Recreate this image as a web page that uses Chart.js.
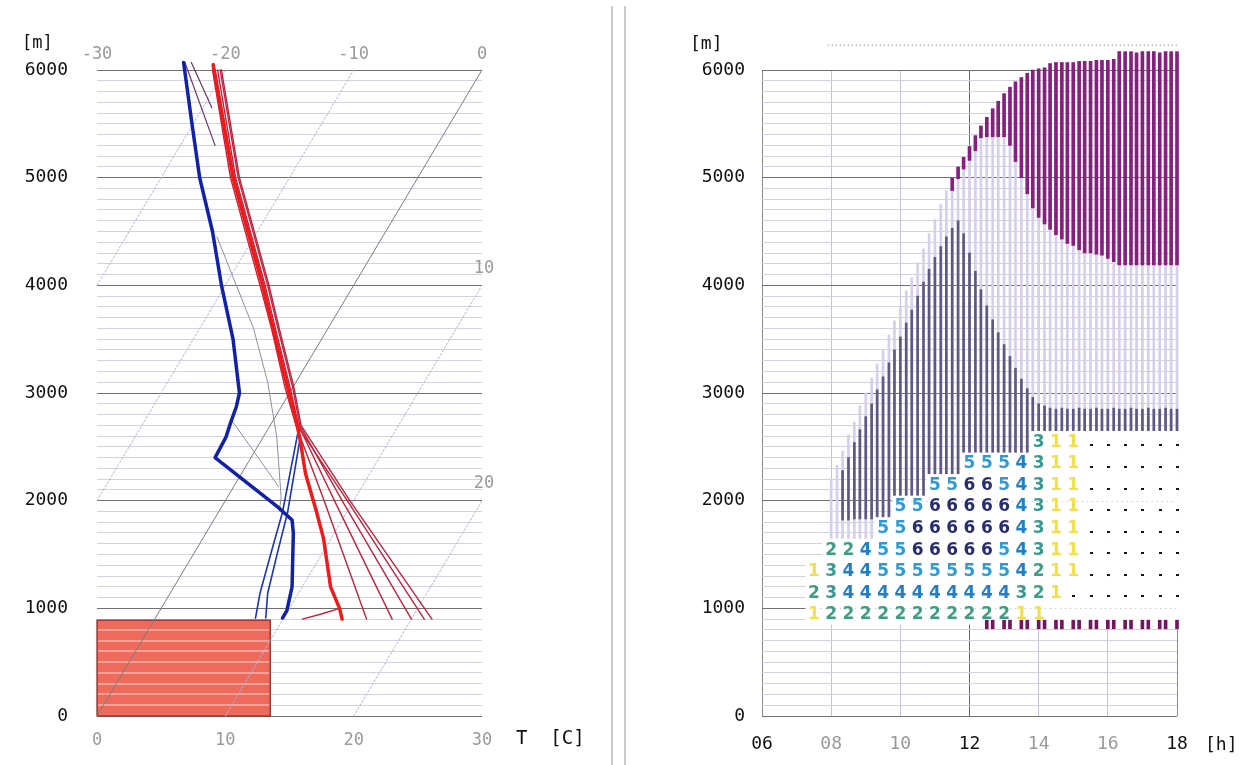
<!DOCTYPE html>
<html>
<head>
<meta charset="utf-8">
<script src="https://cdn.jsdelivr.net/npm/chart.js@4.4.0/dist/chart.umd.min.js"></script>
<style>
  html, body { margin: 0; padding: 0; background: #fff; }
  #wrap { position: relative; width: 1256px; height: 765px; overflow: hidden; }
  #left { position: absolute; left: 0; top: 0; }
  #right { position: absolute; left: 640px; top: 0; }
  .sep { position: absolute; top: 6px; width: 2px; height: 759px; background: #c9c9c9; }
</style>
</head>
<body>
<div id="wrap">
  <canvas id="left" width="600" height="765" style="width:600px;height:765px"></canvas>
  <div class="sep" style="left:611px"></div>
  <div class="sep" style="left:624px"></div>
  <canvas id="right" width="616" height="765" style="width:616px;height:765px"></canvas>
</div>
<script>
// ------------------------------------------------------------
// Left: skewed temperature / height diagram
// heights in m, temperatures in deg C
// ------------------------------------------------------------
const FONT = '"DejaVu Sans Mono", monospace';
const SKEW = 5; // deg C shift per 1000 m

const redMainH = [900, 1000, 1200, 1650, 1900, 2250, 2550, 2700, 3050, 3600, 4000, 5000, 6050];
const redMainT = [14.6, 13.9, 12.2, 9.4, 7.6, 5.0, 3.1, 2.1, -0.4, -4.3, -7.1, -14.4, -21.2];

const redThinH = [900, 2000, 2700, 3050, 3600, 4000, 5000, 6000];
const redThin1T = [16.5, 7.7, 2.0, -0.6, -4.4, -7.3, -14.6, -21.0];
const redThin2T = [18.5, 8.5, 2.2, -0.2, -4.1, -6.9, -14.2, -20.6];
const redThin3T = [20.0, 9.1, 2.3, 0.0, -3.9, -6.7, -14.0, -20.4];
const redThin4T = [21.0, 9.5, 2.1, -0.3, -4.2, -7.0, -14.3, -20.8];
const redThin5T = [21.6, 9.7, 2.4, 0.1, -3.8, -6.6, -13.9, -20.3];

const redHookH = [900, 950, 1000];
const redHookT = [11.5, 12.8, 13.9];

const blueMainH = [910, 980, 1200, 1700, 1820, 1940, 2400, 2590, 2720, 2870, 3000, 3500, 4000, 4500, 5000, 5500, 6070];
const blueMainT = [9.9, 9.9, 9.2, 6.8, 6.1, 4.4, -2.8, -2.9, -3.2, -3.5, -3.9, -6.9, -10.3, -13.5, -17.0, -20.1, -23.6];

const blueThin1H = [910, 1140, 1510, 1890, 2630];
const blueThin1T = [7.8, 7.0, 6.0, 5.0, 2.5];
const blueThin2H = [910, 1140, 1510, 1890, 2560];
const blueThin2T = [8.6, 7.6, 6.5, 5.4, 3.0];

const grayThin1H = [1900, 2030, 2600, 3100, 3600, 4450];
const grayThin1T = [4.7, 4.2, 1.0, -2.2, -5.8, -12.9];
const grayThin2H = [2130, 2680, 2750];
const grayThin2T = [3.5, -2.5, -3.3];

const purpleThin1H = [5300, 6070];
const purpleThin1T = [-17.3, -23.5];
const purpleThin2H = [5650, 6070];
const purpleThin2T = [-19.3, -23.0];

const groundTop = 890;        // m
const groundRight = 13.5;     // on the bottom axis

const isoDotted = [-20, -10, 10, 20];
const isoSolid = [0];
const isoTopLabels = [-30, -20, -10, 0];
const isoSideLabels = [10, 20];

// ------------------------------------------------------------
// Right: time / height chart
// ------------------------------------------------------------
const barTimes = [
  8.00, 8.17, 8.33, 8.50, 8.67, 8.83,
  9.00, 9.17, 9.33, 9.50, 9.67, 9.83,
  10.00, 10.17, 10.33, 10.50, 10.67, 10.83,
  11.00, 11.17, 11.33, 11.50, 11.67, 11.83,
  12.00, 12.17, 12.33, 12.50, 12.67, 12.83,
  13.00, 13.17, 13.33, 13.50, 13.67, 13.83,
  14.00, 14.17, 14.33, 14.50, 14.67, 14.83,
  15.00, 15.17, 15.33, 15.50, 15.67, 15.83,
  16.00, 16.17, 16.33, 16.50, 16.67, 16.83,
  17.00, 17.17, 17.33, 17.50, 17.67, 17.83,
  18.00
];
const lightLo = [
  1650, 1650, 1650, 1650, 1650, 1650, 1650, 1650, 1850, 1850, 1850,
  2050, 2050, 2050, 2050, 2050, 2050, 2250, 2250, 2250, 2250, 2250, 2250,
  2450, 2450, 2450, 2450, 2450, 2450, 2450, 2450, 2450, 2450, 2450, 2450,
  2650, 2650, 2650, 2650, 2650, 2650, 2650, 2650, 2650, 2650, 2650, 2650, 2650,
  2650, 2650, 2650, 2650, 2650, 2650, 2650, 2650, 2650, 2650, 2650, 2650, 2650
];
const lightHi = [
  2200, 2330, 2460, 2610, 2730, 2880, 3000, 3140, 3270, 3400, 3540,
  3670, 3800, 3950, 4070, 4210, 4340, 4480, 4610, 4750, 4880, 5000, 5100,
  5190, 5290, 5390, 5480, 5560, 5640, 5710, 5780, 5840, 5890, 5930, 5970,
  6000, 6010, 6020, 6060, 6070, 6070, 6070, 6070, 6080, 6080, 6080, 6090, 6090,
  6090, 6100, 6170, 6170, 6170, 6160, 6170, 6170, 6170, 6160, 6170, 6170, 6170
];
const darkLo = [
  null, null, 1820, 1820, 1830, 1830, 1830, 1830, 1850, 1850, 1850,
  2050, 2050, 2050, 2050, 2050, 2050, 2250, 2250, 2250, 2250, 2250, 2250,
  2450, 2450, 2450, 2450, 2450, 2450, 2450, 2450, 2450, 2450, 2450, 2450,
  2650, 2650, 2650, 2650, 2650, 2650, 2650, 2650, 2650, 2650, 2650, 2650, 2650,
  2650, 2650, 2650, 2650, 2650, 2650, 2650, 2650, 2650, 2650, 2650, 2650, 2650
];
const darkHi = [
  null, null, 2280, 2400, 2540, 2660, 2780, 2900, 3030, 3150, 3280,
  3400, 3520, 3650, 3770, 3900, 4030, 4150, 4260, 4360, 4450, 4530, 4600,
  4480, 4300, 4130, 3960, 3810, 3680, 3560, 3450, 3340, 3230, 3130, 3040,
  2960, 2900, 2880, 2860, 2850, 2860, 2850, 2850, 2860, 2850, 2850, 2860, 2850,
  2850, 2860, 2850, 2850, 2860, 2850, 2850, 2860, 2850, 2850, 2860, 2850, 2850
];
const magLo = [
  null, null, null, null, null, null, null, null, null, null, null,
  null, null, null, null, null, null, null, null, null, null, 4880, 4990,
  5080, 5160, 5250, 5370, 5380, 5380, 5380, 5380, 5300, 5150, 5000, 4850,
  4720, 4630, 4570, 4520, 4470, 4430, 4390, 4370, 4330, 4300, 4300, 4290, 4280,
  4250, 4220, 4190, 4190, 4190, 4190, 4190, 4190, 4190, 4190, 4190, 4190, 4190
];
const magHi = [
  null, null, null, null, null, null, null, null, null, null, null,
  null, null, null, null, null, null, null, null, null, null, 5000, 5100,
  5190, 5290, 5390, 5480, 5560, 5640, 5710, 5780, 5840, 5890, 5930, 5970,
  6000, 6010, 6020, 6060, 6070, 6070, 6070, 6070, 6080, 6080, 6080, 6090, 6090,
  6090, 6100, 6170, 6170, 6170, 6160, 6170, 6170, 6170, 6160, 6170, 6170, 6170
];
// ground marks
const markTimes = [12.5, 12.67, 13.0, 13.17, 13.5, 13.67, 14.0, 14.17, 14.5, 14.67, 15.0, 15.17,
  15.5, 15.67, 16.0, 16.17, 16.5, 16.67, 17.0, 17.17, 17.5, 17.67, 18.0];
const markLo = 810, markHi = 890;
const topLineH = 6230;
const topLineFrom = 7.9, topLineTo = 18;

// value table: one string per layer, one char per half hour ('.' = trace)
const COL_STEP = 0.5;
const rowHeights = [950, 1150, 1350, 1550, 1750, 1950, 2150, 2350, 2550];
const rowStart = [7.5, 7.5, 7.5, 8.0, 9.5, 10.0, 11.0, 12.0, 14.0];
const rowCodes = [
  '12222222222211        ',
  '234444444444321.......',
  '1344555555554211......',
  '224556666654311......',
  '556666664311......',
  '55666664311......',
  '556654311......',
  '5554311......',
  '311......'
];
const digitColors = {
  '1': '#efe04c', '2': '#3e9d82', '3': '#3a9a92',
  '4': '#1f80c9', '5': '#2e9bd5', '6': '#282d6d'
};
const hourTicks = [6, 8, 10, 12, 14, 16, 18];
const hourStrong = [6, 12, 18];

// ------------------------------------------------------------
function skewX(t, h) { return t + SKEW * h / 1000; }
function profile(hs, ts) { return hs.map((h, i) => ({ x: skewX(ts[i], h), y: h })); }
function isoLine(t) {
  const h0 = Math.max(0, -t * 1000 / SKEW);
  const h1 = Math.min(6000, (30 - t) * 1000 / SKEW);
  return [{ x: skewX(t, h0), y: h0 }, { x: skewX(t, h1), y: h1 }];
}
function lineDs(data, color, width, extra) {
  return Object.assign({
    data, borderColor: color, borderWidth: width, pointRadius: 0,
    tension: 0, fill: false, clip: false, borderJoinStyle: 'round', borderCapStyle: 'round'
  }, extra || {});
}
function floatBars(lo, hi) {
  return barTimes.map((t, i) => (hi[i] == null ? null : { x: t, y: [lo[i], hi[i]] })).filter(Boolean);
}

Chart.defaults.font.family = FONT;

// ---------------- left chart ----------------
const leftDecor = {
  id: 'leftDecor',
  afterDatasetDraw(chart, args) {
    if (chart.data.datasets[args.index].label !== 'ground') return;
    const { ctx, scales: { x, y } } = chart;
    ctx.save();
    ctx.strokeStyle = 'rgba(255,255,255,0.38)';
    ctx.lineWidth = 2;
    for (let h = 100; h < groundTop; h += 100) {
      const py = Math.round(y.getPixelForValue(h));
      ctx.beginPath();
      ctx.moveTo(x.getPixelForValue(0) + 1, py);
      ctx.lineTo(x.getPixelForValue(groundRight) - 1, py);
      ctx.stroke();
    }
    ctx.restore();
  },
  afterDraw(chart) {
    const { ctx, scales: { x, y } } = chart;
    ctx.save();
    ctx.font = '17px ' + FONT;
    ctx.textBaseline = 'middle';
    ctx.textAlign = 'center';
    ctx.fillStyle = '#9a9a9a';
    isoTopLabels.forEach(t => ctx.fillText(String(t), x.getPixelForValue(skewX(t, 6000)), y.top - 15));
    isoSideLabels.forEach(t => ctx.fillText(String(t), x.right + 2, y.getPixelForValue((30 - t) * 1000 / SKEW) - 17));
    ctx.fillStyle = '#111';
    ctx.textAlign = 'left';
    ctx.fillText('[m]', 22, 44);
    ctx.font = '19px ' + FONT;
    ctx.fillText('T  [C]', 516, 739);
    ctx.restore();
  }
};

const thinRed = '#c0233c';
new Chart(document.getElementById('left'), {
  type: 'line',
  data: {
    datasets: [
      lineDs(profile(redMainH, redMainT), '#ee1b1b', 3.5),
      lineDs(profile(redThinH, redThin1T), thinRed, 1.4),
      lineDs(profile(redThinH, redThin2T), thinRed, 1.4),
      lineDs(profile(redThinH, redThin3T), thinRed, 1.4),
      lineDs(profile(redThinH, redThin4T), thinRed, 1.4),
      lineDs(profile(redThinH, redThin5T), thinRed, 1.4),
      lineDs(profile(redHookH, redHookT), thinRed, 1.4),
      lineDs(profile(blueMainH, blueMainT), '#1222a6', 3.5),
      lineDs(profile(blueThin1H, blueThin1T), '#1d36ad', 1.6),
      lineDs(profile(blueThin2H, blueThin2T), '#1d36ad', 1.6),
      lineDs(profile(grayThin1H, grayThin1T), '#8e8e9c', 1),
      lineDs(profile(grayThin2H, grayThin2T), '#8e8e9c', 1),
      lineDs(profile(purpleThin1H, purpleThin1T), '#6a3768', 1.2),
      lineDs(profile(purpleThin2H, purpleThin2T), '#6a3768', 1.2),
      ...isoDotted.map(t => lineDs(isoLine(t), '#b3b3de', 1, { borderDash: [2, 2] })),
      ...isoSolid.map(t => lineDs(isoLine(t), '#7c7c7c', 1)),
      lineDs([{ x: 0, y: 0 }, { x: groundRight, y: 0 }, { x: groundRight, y: groundTop }, { x: 0, y: groundTop }, { x: 0, y: 0 }],
        '#8a1e1e', 1.2, { borderJoinStyle: 'miter' }),
      lineDs([{ x: 0, y: groundTop }, { x: groundRight, y: groundTop }],
        'rgba(0,0,0,0)', 0, { label: 'ground', fill: 'origin', backgroundColor: '#ee6a5b' })
    ]
  },
  options: {
    responsive: false, animation: false, events: [],
    layout: { padding: { top: 70, right: 118, left: 0, bottom: 0 } },
    plugins: { legend: { display: false }, tooltip: { enabled: false } },
    scales: {
      x: {
        type: 'linear', min: 0, max: 30,
        afterFit: s => { s.height = 49; },
        border: { display: false },
        grid: { display: false },
        ticks: { stepSize: 10, color: '#9a9a9a', padding: 6, font: { size: 17 }, maxRotation: 0 }
      },
      y: {
        type: 'linear', min: 0, max: 6000,
        afterFit: s => { s.width = 97; },
        border: { display: false },
        grid: {
          drawTicks: false, lineWidth: 1,
          color: c => (c.tick.value % 1000 === 0 ? '#707070' : '#d2d2e2')
        },
        ticks: {
          stepSize: 100, autoSkip: false, padding: 29, color: '#111', font: { size: 18 },
          callback: v => (v % 1000 === 0 ? String(v) : '')
        }
      }
    }
  },
  plugins: [leftDecor]
});

// ---------------- right chart ----------------
const rightDecor = {
  id: 'rightDecor',
  beforeDatasetsDraw(chart) {
    const { ctx, scales: { x, y } } = chart;
    ctx.save();
    ctx.fillStyle = '#fff';
    rowCodes.forEach((code, r) => {
      const x0 = x.getPixelForValue(rowStart[r] - COL_STEP / 2);
      const x1 = x.getPixelForValue(rowStart[r] + (code.length - 0.5) * COL_STEP);
      const y0 = y.getPixelForValue(rowHeights[r] + 100);
      const y1 = y.getPixelForValue(rowHeights[r] - 100);
      ctx.fillRect(x0, y0, x1 - x0 + 1, y1 - y0);
    });
    // major height lines show through faintly
    ctx.strokeStyle = '#b8b8c8';
    ctx.setLineDash([1, 4]);
    [1000, 2000].forEach(m => {
      const rows = rowHeights.map((h, r) => r).filter(r => Math.abs(rowHeights[r] - m) <= 100);
      const start = Math.min(...rows.map(r => rowStart[r])) - COL_STEP / 2;
      const py = Math.round(y.getPixelForValue(m)) + 0.5;
      ctx.beginPath();
      ctx.moveTo(x.getPixelForValue(start), py);
      ctx.lineTo(x.getPixelForValue(18), py);
      ctx.stroke();
    });
    ctx.restore();
  },
  afterDatasetsDraw(chart) {
    const { ctx, scales: { x, y } } = chart;
    ctx.save();
    ctx.font = 'bold 17px "DejaVu Sans", sans-serif';
    ctx.textAlign = 'center';
    ctx.textBaseline = 'middle';
    rowCodes.forEach((code, r) => {
      const cy = y.getPixelForValue(rowHeights[r]);
      [...code].forEach((c, j) => {
        const cx = x.getPixelForValue(rowStart[r] + j * COL_STEP);
        if (c === '.') {
          ctx.fillStyle = '#151515';
          ctx.fillRect(Math.round(cx) - 1, Math.round(cy) + 3, 3, 2);
        } else if (c !== ' ') {
          ctx.fillStyle = digitColors[c];
          ctx.fillText(c, cx, cy + 1);
        }
      });
    });
    ctx.font = '18px ' + FONT;
    ctx.fillStyle = '#111';
    ctx.textAlign = 'left';
    ctx.fillText('[m]', 50, 44);
    ctx.fillText('[h]', 565, 745);
    ctx.restore();
  }
};

new Chart(document.getElementById('right'), {
  type: 'bar',
  data: {
    datasets: [
      {
        type: 'line', data: [{ x: topLineFrom, y: topLineH }, { x: topLineTo, y: topLineH }],
        borderColor: '#bcaecb', borderWidth: 2, borderDash: [1, 3], pointRadius: 0, clip: false
      },
      {
        data: markTimes.map(t => ({ x: t, y: [markLo, markHi] })),
        backgroundColor: '#74155f', barThickness: 3, grouped: false, clip: false
      },
      { data: floatBars(magLo, magHi), backgroundColor: '#86207f', barThickness: 3, grouped: false, clip: false },
      { data: floatBars(darkLo, darkHi), backgroundColor: '#5f5882', barThickness: 2, grouped: false, clip: false },
      { data: floatBars(lightLo, lightHi), backgroundColor: '#d5cfe9', barThickness: 2, grouped: false, clip: false }
    ]
  },
  options: {
    responsive: false, animation: false, events: [],
    layout: { padding: { top: 70, right: 79, left: 0, bottom: 0 } },
    plugins: { legend: { display: false }, tooltip: { enabled: false } },
    scales: {
      x: {
        type: 'linear', min: 6, max: 18, offset: false,
        afterFit: s => { s.height = 49; },
        afterBuildTicks: s => { s.ticks = hourTicks.map(v => ({ value: v })); },
        border: { display: false },
        grid: {
          offset: false, drawTicks: false,
          color: c => (c.tick.value === 12 ? '#6a6a6a' : (c.tick.value === 6 || c.tick.value === 18 ? '#8a8a8a' : '#c6c1e3'))
        },
        ticks: {
          padding: 18, font: { size: 18 }, maxRotation: 0, autoSkip: false,
          color: c => (hourStrong.includes(c.tick.value) ? '#111' : '#9a9a9a'),
          callback: v => String(v).padStart(2, '0')
        }
      },
      y: {
        type: 'linear', min: 0, max: 6000,
        afterFit: s => { s.width = 122; },
        border: { display: false },
        grid: {
          drawTicks: false, lineWidth: 1,
          color: c => (c.tick.value % 1000 === 0 ? '#707070' : '#d2d2e2')
        },
        ticks: {
          stepSize: 100, autoSkip: false, padding: 17, color: '#111', font: { size: 18 },
          callback: v => (v % 1000 === 0 ? String(v) : '')
        }
      }
    }
  },
  plugins: [rightDecor]
});
</script>
</body>
</html>
